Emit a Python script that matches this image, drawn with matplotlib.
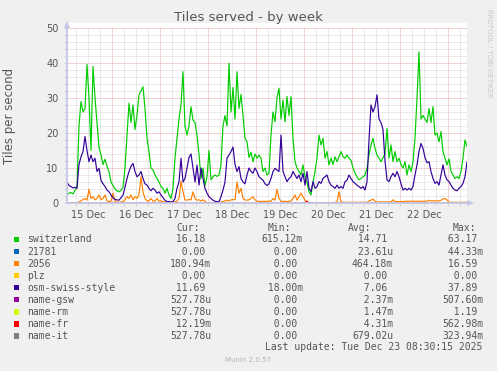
import numpy as np
import pandas as pd
import matplotlib
matplotlib.use("Agg")
import matplotlib.pyplot as plt
import matplotlib.dates as mdates
from matplotlib.patches import Rectangle, Polygon
from matplotlib.ticker import MultipleLocator, FuncFormatter, NullFormatter

# hourly samples, 15 Dec 01:30 -> 23 Dec 09:30
start = "2025-12-15 01:30"

switzerland = [
    2.3, 2.8, 3.0, 2.6, 3.7, 4.5, 22, 29, 26, 27,
    39.6, 30, 15, 39, 30, 23, 16, 13.7, 11, 12.5,
    10.5, 9, 6, 5, 4, 3.5, 3.2, 3.6, 4.5, 10,
    19, 28.5, 23, 28, 21, 25, 31, 32, 33.2, 27,
    18.5, 14.7, 10, 9.4, 8, 7, 6, 4.7, 4.2, 2.8,
    4.2, 2.3, 1.3, 4.2, 12.8, 18.5, 24, 28, 37.5, 22,
    19.4, 22, 27.5, 23.7, 23, 19.4, 14, 7, 10, 5,
    7.5, 15, 6.6, 7.5, 8, 7.6, 8, 10.9, 22, 25,
    22, 40, 26, 33, 24, 37.5, 27, 31, 25, 18.5,
    17.5, 13, 14.5, 11.8, 14, 12.8, 13.7, 12.8, 9, 10,
    8, 8.5, 19.4, 26, 23.2, 30, 32.8, 24, 29.4, 23.2,
    30.4, 25, 30.4, 18.5, 11.8, 10, 9, 8, 10.9, 7.5,
    6, 3.2, 2.3, 6, 9, 12.8, 19.4, 16.6, 18.5, 12.8,
    14.7, 10.9, 12.8, 11, 13.2, 11.8, 13.2, 14.7, 13.2, 12.8,
    13.7, 12.8, 12.2, 10, 8.5, 7.5, 6.6, 7, 7.5, 8,
    10, 13.7, 16.6, 18.5, 15.6, 13.7, 12.8, 11.8, 13, 14,
    21.3, 12.8, 16.6, 11.8, 14.7, 11.8, 12.8, 11, 10, 11.8,
    8, 10.9, 9, 11.8, 18.5, 30, 43.2, 24, 25, 24,
    23, 27, 23, 27.5, 19.4, 20, 17.5, 20.4, 14.7, 12.8,
    10.9, 12.6, 9, 8, 7, 7.5, 7, 9, 12.8, 18,
    16.18,
]

osm_swiss_style = [
    6, 5, 4.7, 4.3, 4.5, 4.2, 11, 13.2, 14.7, 19,
    15, 11.8, 13.7, 11.8, 12.8, 9, 9.9, 6.5, 5.5, 4.7,
    3.7, 3.2, 2.3, 1.5, 1.0, 0.9, 0.8, 1.5, 2.3, 4.5,
    7, 9, 10.5, 11.3, 9, 7.5, 8, 9, 7, 5.5,
    5.1, 4.2, 3.5, 4.2, 3.7, 2.8, 3.2, 2.3, 1.5, 0.8,
    0.4, 0.4, 0.3, 0.4, 1.3, 4.2, 6, 12.8, 6, 7,
    10, 13, 14, 10, 6, 10.8, 5.1, 10, 7, 4.2,
    2.8, 1.8, 1.3, 0.8, 0.5, 0.4, 0.4, 1.8, 3.7, 6,
    12.8, 13.7, 14.7, 16, 11, 9, 10.4, 7, 6, 5.5,
    8, 10, 9, 8.5, 10, 9, 7.5, 7, 6.5, 5.5,
    5, 5.5, 7, 9, 9.9, 9.4, 9, 19.4, 9, 7.5,
    6.1, 7, 7.5, 9, 8, 7, 8, 6.1, 8.5, 5.1,
    9, 4.2, 3.2, 6.1, 4.2, 4.7, 6.1, 5.6, 7, 7.5,
    8, 6.1, 5.1, 4.7, 4.2, 5.1, 4.2, 4.7, 4.2, 6.1,
    6.5, 8, 7, 6.1, 5.6, 5.1, 4.7, 4.2, 4.7, 3.7,
    6.1, 18, 28, 26, 27.5, 30.9, 24, 23, 21, 12,
    6.6, 6.1, 7.5, 8.5, 7.5, 9, 7.5, 5.5, 3.7, 4.2,
    3.7, 4.2, 3.7, 4.7, 8, 10.9, 14.7, 17, 15.6, 13,
    11.5, 11.8, 9, 7, 5.6, 6.1, 5.1, 8, 10.9, 8,
    6.6, 6.1, 5.1, 4.2, 3.7, 3.5, 4.2, 4.7, 5.6, 7.5,
    11.69,
]

epsg_2056 = [
    0.1, 0.1, 0.1, 0.1, 0.1, 0.1, 0.3, 0.6, 1.0, 1.3,
    0.8, 3.9, 1.3, 1.8, 0.9, 1.3, 2.3, 0.9, 1.3, 2.3,
    0.6, 0.4, 0.5, 2.8, 0.4, 0.3, 0.2, 0.3, 0.4, 0.9,
    1.8, 1.3, 2.3, 0.9, 1.8, 1.3, 2.3, 7.5, 3.2, 1.3,
    0.6, 0.6, 1.3, 0.5, 0.6, 1.3, 0.5, 0.6, 0.4, 0.3,
    0.2, 0.2, 0.2, 0.2, 0.3, 0.5, 1.3, 6.2, 3.2, 0.9,
    0.8, 1.0, 0.9, 3.2, 1.3, 0.8, 0.9, 0.6, 0.9, 0.5,
    0.1, 0.1, 0.1, 0.1, 0.1, 0.1, 0.1, 0.3, 0.4, 0.6,
    0.8, 0.6, 0.9, 1.0, 0.9, 6.0, 2.8, 4.2, 1.3, 0.9,
    0.8, 0.9, 1.3, 1.8, 0.9, 0.5, 0.5, 0.4, 0.5, 0.5,
    0.4, 0.6, 0.5, 1.3, 0.8, 3.9, 1.3, 0.5, 0.4, 0.5,
    0.4, 0.5, 0.6, 1.3, 2.3, 0.8, 1.8, 2.8, 1.8, 0.8,
    0.1, 0.1, 0.1, 0.1, 0.1, 0.1, 0.1, 0.1, 0.1, 0.1,
    0.1, 0.1, 0.1, 0.1, 0.2, 0.3, 3.2, 0.4, 0.2, 0.2,
    0.2, 0.2, 0.2, 0.2, 0.2, 0.2, 0.2, 0.2, 0.2, 0.2,
    0.2, 0.6, 0.8, 1.1, 0.5, 0.3, 0.3, 0.3, 0.3, 0.3,
    0.3, 0.3, 0.3, 0.9, 0.4, 0.4, 0.4, 0.4, 0.4, 0.5,
    0.5, 0.5, 0.5, 0.5, 0.5, 0.5, 0.5, 0.5, 0.5, 0.5,
    0.5, 0.8, 0.6, 0.6, 0.6, 0.6, 0.6, 0.8, 1.1, 1.3,
    0.9, 0.2, 0.2, 0.2, 0.2, 0.2, 0.2, 0.2, 0.2, 0.2,
    0.18,
]

n = len(switzerland)
times = pd.date_range(start, periods=n, freq="h")

# the remaining fields stay at (practically) zero all week
epsg_21781 = np.zeros(n)
plz = np.zeros(n)
name_gsw = np.zeros(n)
name_rm = np.zeros(n)
name_it = np.zeros(n)
name_fr = np.zeros(n)
name_fr[120] = 0.56

names = ["switzerland", "21781", "2056", "plz", "osm-swiss-style",
         "name-gsw", "name-rm", "name-fr", "name-it"]
colors = ["#00CC00", "#0066B3", "#FF8000", "#FFCC00", "#330099",
          "#990099", "#CCFF00", "#FF0000", "#808080"]
series = [switzerland, epsg_21781, epsg_2056, plz, osm_swiss_style,
          name_gsw, name_rm, name_fr, name_it]

cur = ["16.18 ", "0.00 ", "180.94m", "0.00 ", "11.69 ",
       "527.78u", "527.78u", "12.19m", "527.78u"]
mins = ["615.12m", "0.00 ", "0.00 ", "0.00 ", "18.00m",
        "0.00 ", "0.00 ", "0.00 ", "0.00 "]
avgs = ["14.71 ", "23.61u", "464.18m", "0.00 ", "7.06 ",
        "2.37m", "1.47m", "4.31m", "679.02u"]
maxs = ["63.17 ", "44.33m", "16.59 ", "0.00 ", "37.89 ",
        "507.60m", "1.19 ", "562.98m", "323.94m"]

W, H = 497, 371
fig = plt.figure(figsize=(W / 100, H / 100), dpi=100, facecolor="#F0F0F0")

# pixel-space overlay for the munin furniture (legend, arrows, credits)
ov = fig.add_axes([0, 0, 1, 1], zorder=0)
ov.set_xlim(0, W)
ov.set_ylim(H, 0)
ov.axis("off")

ax = fig.add_axes([67 / W, 1 - 203 / H, 400 / W, 175 / H], zorder=1)
ax.set_facecolor("white")
ov.add_patch(Rectangle((67, 23), 400, 180, color="white", lw=0))

for vals, c in zip(series, colors):
    ax.plot(times, vals, color=c, lw=0.85, solid_joinstyle="round")

ax.set_xlim(times[0], times[-1])
ax.set_ylim(0, 50)

ax.yaxis.set_major_locator(MultipleLocator(10))
ax.yaxis.set_minor_locator(MultipleLocator(2))
ax.xaxis.set_major_locator(mdates.DayLocator())
ax.xaxis.set_minor_locator(mdates.HourLocator(byhour=[6, 12, 18]))
ax.xaxis.set_major_formatter(NullFormatter())


def noon_label(x, pos):
    d = mdates.num2date(x)
    return d.strftime("%d %b") if d.hour == 12 else ""


ax.xaxis.set_minor_formatter(FuncFormatter(noon_label))

ax.grid(which="major", color="#EBA5A5", lw=0.72, linestyle=(0, (1, 1)))
ax.grid(which="minor", color="#D6D6D6", lw=0.72, linestyle=(0, (1, 1)))
ax.set_axisbelow(True)

ax.tick_params(which="both", length=2, width=0.6, color="#D0D0D0",
               labelsize=7, labelcolor="#555555")
ax.tick_params(axis="y", which="major", pad=4)
ax.tick_params(axis="x", which="both", pad=3)

for s in ["top", "right"]:
    ax.spines[s].set_visible(False)
for s in ["left", "bottom"]:
    ax.spines[s].set_color("#C4C8E8")
    ax.spines[s].set_linewidth(1.3)
    ax.spines[s].set_zorder(5)

# axis arrows
ov.add_patch(Polygon([(64, 28), (70, 28), (67, 21)], closed=True,
                     color="#C4C8E8", lw=0))
ov.add_patch(Polygon([(467, 200), (467, 206), (474, 203)], closed=True,
                     color="#C4C8E8", lw=0))

ov.text(248, 18, "Tiles served - by week", ha="center", va="center",
        fontsize=9.5, color="#555555")
ov.text(10, 115.5, "Tiles per second", ha="center", va="center",
        rotation=90, fontsize=8.5, color="#555555")
ov.text(489, 53, "RRDTOOL / TOBI OETIKER", ha="center", va="center",
        rotation=270, fontsize=5, color="#C8C8C8")

mono = "DejaVu Sans Mono"
lc = "#555555"
fs = 7
ov.text(176, 228, "Cur:", family=mono, fontsize=fs, color=lc, va="center")
ov.text(268, 228, "Min:", family=mono, fontsize=fs, color=lc, va="center")
ov.text(348, 228, "Avg:", family=mono, fontsize=fs, color=lc, va="center")
ov.text(453, 228, "Max:", family=mono, fontsize=fs, color=lc, va="center")

for i, name in enumerate(names):
    y = 239.5 + i * 12.05
    ov.add_patch(Rectangle((14, y - 2.7), 5.4, 5.4, color=colors[i], lw=0))
    ov.text(27, y, name, family=mono, fontsize=fs, color=lc, va="center")
    ov.text(170, y, cur[i].rjust(7), family=mono, fontsize=fs, color=lc, va="center")
    ov.text(261.5, y, mins[i].rjust(7), family=mono, fontsize=fs, color=lc, va="center")
    ov.text(352, y, avgs[i].rjust(7), family=mono, fontsize=fs, color=lc, va="center")
    ov.text(442, y, maxs[i].rjust(7), family=mono, fontsize=fs, color=lc, va="center")

ov.text(482, 347.5, "Last update: Tue Dec 23 08:30:15 2025", family=mono,
        fontsize=fs, color=lc, ha="right", va="center")
ov.text(248, 359.5, "Munin 2.0.57", fontsize=5, color="#B4B4B4",
        ha="center", va="center")

fig.savefig("out.png", dpi=100, facecolor=fig.get_facecolor())
